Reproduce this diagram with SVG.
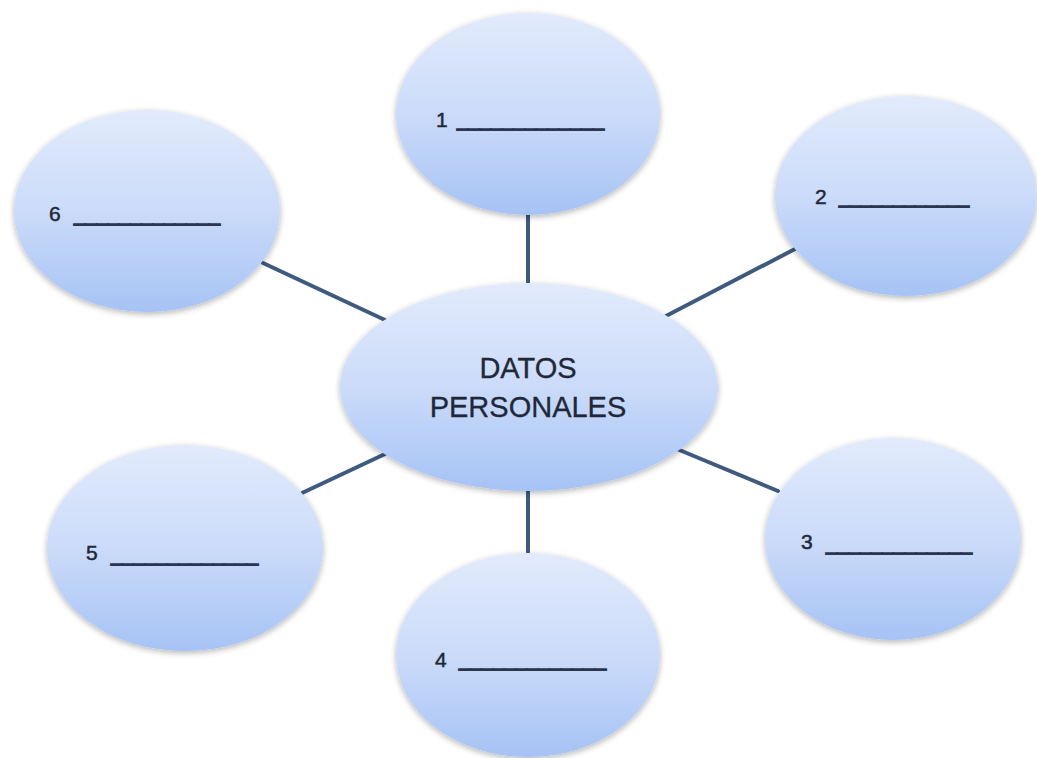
<svg xmlns="http://www.w3.org/2000/svg" width="1037" height="758" viewBox="0 0 1037 758">
<defs>
<linearGradient id="g" x1="0" y1="0" x2="0" y2="1">
<stop offset="0" stop-color="#e2ebfc"/>
<stop offset="0.5" stop-color="#cbdbf9"/>
<stop offset="1" stop-color="#a6c3f5"/>
</linearGradient>
<filter id="sh" x="-10%" y="-10%" width="120%" height="125%">
<feGaussianBlur in="SourceAlpha" stdDeviation="3"/>
<feOffset dx="0" dy="2" result="b"/>
<feComponentTransfer><feFuncA type="linear" slope="0.3"/></feComponentTransfer>
<feMerge><feMergeNode/><feMergeNode in="SourceGraphic"/></feMerge>
</filter>
<style>
.n{fill:url(#g);filter:url(#sh)}
.c{stroke:#3e5a7e;stroke-width:4;stroke-linecap:round}
.t{font-family:"Liberation Sans",Arial,sans-serif;fill:#1e2838}
.num{font-size:21px;stroke:#1e2838;stroke-width:0.5}
.u{font-size:20px;stroke:#2a3650;stroke-width:1.4}
.big{font-size:29px;text-anchor:middle;stroke:#1e2838;stroke-width:0.3}
</style>
</defs>
<rect width="1037" height="758" fill="#ffffff"/>
<g id="connectors">
<line class="c" x1="528" y1="215" x2="528" y2="284"/>
<line class="c" x1="528" y1="491" x2="528" y2="552"/>
<line class="c" x1="263" y1="263" x2="385" y2="320"/>
<line class="c" x1="666" y1="316" x2="795" y2="249"/>
<line class="c" x1="302" y1="493" x2="385" y2="454"/>
<line class="c" x1="677" y1="449" x2="778" y2="491"/>
</g>
<g id="center">
<ellipse class="n" cx="529" cy="387" rx="189" ry="104"/>
<text class="t big" x="528" y="378">DATOS</text>
<text class="t big" x="528" y="417">PERSONALES</text>
</g>
<g id="node1">
<ellipse class="n" cx="528" cy="114" rx="132" ry="101"/>
<text class="t num" x="436" y="127">1</text>
<text class="t u" x="457" y="126" textLength="147" lengthAdjust="spacingAndGlyphs">_____________</text>
</g>
<g id="node2">
<ellipse class="n" cx="906" cy="196" rx="131" ry="100"/>
<text class="t num" x="815" y="204">2</text>
<text class="t u" x="839" y="203" textLength="130" lengthAdjust="spacingAndGlyphs">____________</text>
</g>
<g id="node3">
<ellipse class="n" cx="893" cy="539" rx="128" ry="101"/>
<text class="t num" x="801" y="549">3</text>
<text class="t u" x="826" y="550" textLength="146" lengthAdjust="spacingAndGlyphs">_____________</text>
</g>
<g id="node4">
<ellipse class="n" cx="528" cy="655" rx="132" ry="102"/>
<text class="t num" x="435" y="667">4</text>
<text class="t u" x="459" y="666" textLength="147" lengthAdjust="spacingAndGlyphs">_____________</text>
</g>
<g id="node5">
<ellipse class="n" cx="185" cy="548" rx="138" ry="103"/>
<text class="t num" x="86" y="560">5</text>
<text class="t u" x="111" y="561" textLength="147" lengthAdjust="spacingAndGlyphs">_____________</text>
</g>
<g id="node6">
<ellipse class="n" cx="147" cy="211" rx="133" ry="101"/>
<text class="t num" x="49" y="221">6</text>
<text class="t u" x="74" y="221" textLength="146" lengthAdjust="spacingAndGlyphs">_____________</text>
</g>
</svg>
